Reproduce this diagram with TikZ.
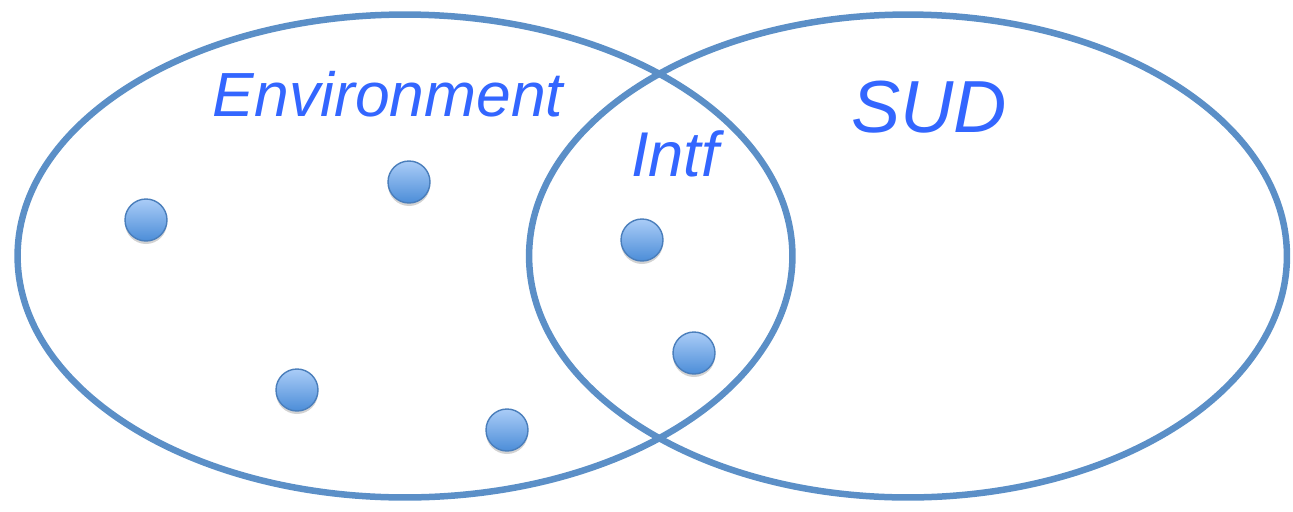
\documentclass[tikz,border=0pt]{standalone}
\usepackage{fontspec}
\setmainfont{Liberation Sans}
\usepackage{xcolor}
\usepackage{tikz}
\usetikzlibrary{shapes.geometric, shadows, positioning}

\definecolor{ringblue}{HTML}{5B8FC7}
\definecolor{textblue}{HTML}{3366FF}
\definecolor{dottop}{HTML}{AACCF7}
\definecolor{dotbot}{HTML}{4C8DD8}
\definecolor{dotedge}{HTML}{4A7EBB}

\tikzset{
    ring/.style={ellipse, draw=ringblue, line width=3.7pt, inner sep=0pt},
    elem/.style={circle, draw=dotedge, line width=0.8pt, minimum size=0.84cm, inner sep=0pt,
        top color=dottop, bottom color=dotbot,
        drop shadow={shadow xshift=0pt, shadow yshift=-0.06cm, opacity=0.35}},
    lbl/.style={text=textblue, font=\itshape, inner sep=0pt, anchor=base}
}

\begin{document}
\begin{tikzpicture}[x=0.02cm, y=-0.02cm]
    \useasboundingbox (0,0) rectangle (1293,511);
    \node[ring, minimum width=15.5cm, minimum height=9.66cm] (env) at (405,256) {};
    \node[ring, minimum width=15.16cm, minimum height=9.66cm] (sud) at (908,256) {};
    \foreach \n/\x/\y in {e1/146/220,e2/409/182,e3/297/390,e4/507/430,i1/642/240,i2/694/353} {
        \node[elem] (\n) at (\x,\y) {};
    }
    \node[lbl, font=\fontsize{35.5}{42}\selectfont\itshape] (envlabel) at (388,116) {Environment};
    \node[lbl, font=\fontsize{42}{50}\selectfont\itshape] (sudlabel) at (929,132) {SUD};
    \node[lbl, font=\fontsize{36}{43}\selectfont\itshape] (intflabel) at (675,176) {Intf};
\end{tikzpicture}
\end{document}
